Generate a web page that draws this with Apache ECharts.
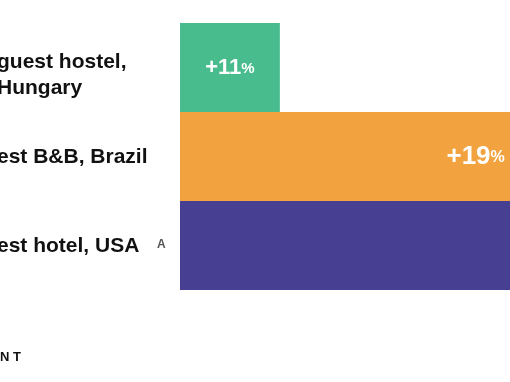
<!DOCTYPE html>
<html><head><meta charset="utf-8">
<script src="https://cdn.jsdelivr.net/npm/echarts@6/dist/echarts.min.js"></script>
<style>html,body{margin:0;padding:0;background:#fff}#c{width:510px;height:382px}</style>
</head><body><div id="c"></div>
<script>
const categories = ["guest hostel,\nHungary", "est B&B, Brazil", "est hotel, USA"];
const values = [11, 19, 24];
const valueLabels = ["+11", "+19", "+24"];
const barColors = ["#49BC8D", "#F2A23E", "#463F92"];

const FONT = 'Liberation Sans, Arial, sans-serif';
const chart = echarts.init(document.getElementById('c'));
const labelSizes = [{n: 22, p: 15}, {n: 26, p: 16}, {n: 26, p: 16}];
chart.setOption({
  animation: false,
  grid: {left: 180, top: 23, width: 511, height: 267, containLabel: false, outerBoundsMode: 'none'},
  xAxis: {type: 'value', min: 7.6, max: 25, show: false},
  yAxis: {
    type: 'category', data: categories, inverse: true,
    axisLine: {show: true, lineStyle: {color: '#dcdcdc', width: 1}},
    axisTick: {show: false},
    axisLabel: {
      align: 'left', margin: 183,
      formatter: v => v.indexOf('\n') >= 0 ? '{m|' + v + '}' : '{s|' + v + '}',
      rich: {
        m: {fontFamily: FONT, fontWeight: 'bold', fontSize: 21, color: '#111', lineHeight: 26, padding: [15, 0, 0, 0]},
        s: {fontFamily: FONT, fontWeight: 'bold', fontSize: 21, color: '#111', lineHeight: 26, padding: [2, 0, 0, 0]}
      },
      verticalAlign: 'middle'
    }
  },
  series: [{
    type: 'bar', barWidth: '100%', barCategoryGap: 0,
    data: values.map((v, i) => ({
      value: v,
      itemStyle: {color: barColors[i]},
      label: {
        show: true,
        position: i === 0 ? 'inside' : 'insideRight',
        distance: 10,
        formatter: '{n|' + valueLabels[i] + '}{p|%}',
        rich: {
          n: {fontFamily: FONT, fontWeight: 'bold', fontSize: labelSizes[i].n, color: '#fff'},
          p: {fontFamily: FONT, fontWeight: 'bold', fontSize: labelSizes[i].p, color: '#fff', padding: [3, 0, 0, 0]}
        }
      }
    }))
  }],
  graphic: [
    {type: 'text', left: 157, top: 239, style: {text: 'A', fontSize: 12, fontWeight: 'bold', fontFamily: FONT, fill: '#555'}},
    {type: 'text', left: 0, top: 351, style: {text: 'N T', fontSize: 13, fontWeight: 'bold', fontFamily: FONT, fill: '#111'}}
  ]
});
</script></body></html>
